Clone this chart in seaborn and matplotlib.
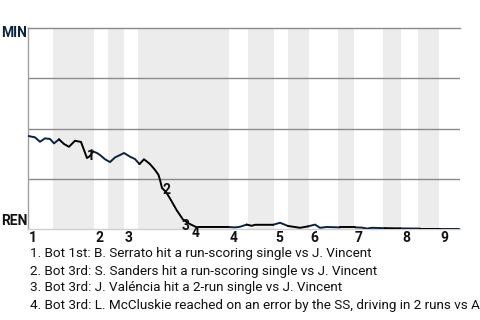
import numpy as np
import pandas as pd
import matplotlib
matplotlib.use("Agg")
import matplotlib.pyplot as plt
import seaborn as sns

sns.set_theme(style="white")
plt.rcParams["font.family"] = ["Roboto", "DejaVu Sans"]

# ---- data ----
game_x = [0, 7, 12, 17, 22, 26, 31, 36, 41, 47, 53, 59, 62, 65, 69, 72, 77, 82, 87, 92,
          96, 102, 107, 111.5, 116, 122, 127, 130.5, 132, 134, 138, 142, 148.5, 155, 161, 168,
          200, 207, 212, 218.7, 223.7, 227, 245, 252, 260, 272, 280, 287, 292, 298.7,
          312, 327, 334, 339, 344, 357, 372, 392, 412, 431]
win_prob = [0.463, 0.456, 0.434, 0.451, 0.448, 0.426, 0.446, 0.423, 0.409, 0.439, 0.433,
            0.353, 0.363, 0.386, 0.378, 0.368, 0.347, 0.333, 0.356, 0.368, 0.378, 0.360,
            0.348, 0.323, 0.347, 0.323, 0.294, 0.269, 0.244, 0.204, 0.184, 0.152, 0.095,
            0.047, 0.027, 0.010, 0.010, 0.008, 0.011, 0.022, 0.016, 0.021, 0.021, 0.031,
            0.015, 0.006, 0.013, 0.022, 0.006, 0.010, 0.008, 0.008, 0.007, 0.002, 0.006,
            0.004, 0.003, 0.002, 0.002, 0.002]

# bottom half-innings (shaded) start / end
bot_half_start = [25, 80, 110, 220, 260, 310, 355, 390]
bot_half_end = [66, 96, 201, 246, 281, 326, 373, 411]

# inning labels at start of each top half
inning_x = [0, 66, 96, 201, 246, 281, 326, 373, 411]
inning_labels = ["1", "2", "3", "4", "5", "6", "7", "8", "9"]

# line colour changes (team) along the game
team_breaks = [0, 29, 65, 112, 200, 217, 247, 260, 280, 310, 326, 355, 376, 390, 411, 432]
team_order = ["MIN", "REN", "MIN", "REN", "MIN", "REN", "MIN", "REN", "MIN", "REN",
              "MIN", "REN", "MIN", "REN", "MIN"]

event_x = [63, 138.7, 158, 168]
event_wp = [0.363, 0.194, 0.015, -0.02]
event_labels = ["1", "2", "3", "4"]
event_text = [
    "1. Bot 1st: B. Serrato hit a run-scoring single vs J. Vincent",
    "2. Bot 3rd: S. Sanders hit a run-scoring single vs J. Vincent",
    "3. Bot 3rd: J. Valéncia hit a 2-run single vs J. Vincent",
    "4. Bot 3rd: L. McCluskie reached on an error by the SS, driving in 2 runs vs A. Alvarez",
]

team_colors = {"MIN": "#0c2340", "REN": "#000000"}

# ---- build segments ----
rows = []
seg = -1
prev = None
for i in range(len(game_x) - 1):
    mid = (game_x[i] + game_x[i + 1]) / 2
    team = team_order[min(np.searchsorted(team_breaks, mid, side="right") - 1, len(team_order) - 1)]
    if team != prev:
        seg += 1
        prev = team
        rows.append((game_x[i], win_prob[i], team, seg))
    rows.append((game_x[i + 1], win_prob[i + 1], team, seg))
df = pd.DataFrame(rows, columns=["x", "wp", "team", "seg"])

fig = plt.figure(figsize=(4.8, 3.2), dpi=100)
ax = fig.add_axes([28 / 480, 1 - 229 / 320, 432 / 480, 201 / 320])

for s, e in zip(bot_half_start, bot_half_end):
    ax.axvspan(s, e, color="#ececec", lw=0, zorder=0)
for y in [0.25, 0.5, 0.75]:
    ax.axhline(y, color="#8a8a8a", lw=1.0, zorder=1)

sns.lineplot(data=df, x="x", y="wp", hue="team", units="seg", estimator=None,
             palette=team_colors, legend=False, lw=1.4, sort=False, ax=ax, zorder=3)

ax.set_xlim(0, 432)
ax.set_ylim(0, 1)
ax.set_xticks([])
ax.set_yticks([])
ax.set_xlabel("")
ax.set_ylabel("")
ax.spines["right"].set_visible(False)
ax.spines["top"].set_color("#8a8a8a")
ax.spines["top"].set_linewidth(1.0)
ax.spines["left"].set_color("#a0a0a0")
ax.spines["left"].set_linewidth(1.0)
ax.spines["bottom"].set_color("#d0d0d0")
ax.spines["bottom"].set_linewidth(1.0)

fig.text(27 / 480, 1 - 33 / 320, "MIN", ha="right", va="center", weight="bold",
         fontsize=10, color="#0c2340")
fig.text(27 / 480, 1 - 221 / 320, "REN", ha="right", va="center", weight="bold",
         fontsize=10, color="#111111")

for xv, lab in zip(inning_x, inning_labels):
    ax.text(xv + 1, -0.012, lab, ha="left", va="top", weight="bold", fontsize=10,
            color="#111111", clip_on=False)

for xv, yv, lab in zip(event_x, event_wp, event_labels):
    ax.text(xv, yv, lab, ha="center", va="center", weight="bold", fontsize=10,
            color="#111111", clip_on=False, zorder=5)

for k, t in enumerate(event_text):
    fig.text(30 / 480, 1 - (254 + 17 * k) / 320, t, ha="left", va="center",
             fontsize=9.7, color="#111111")

fig.savefig("out.png", dpi=100)
